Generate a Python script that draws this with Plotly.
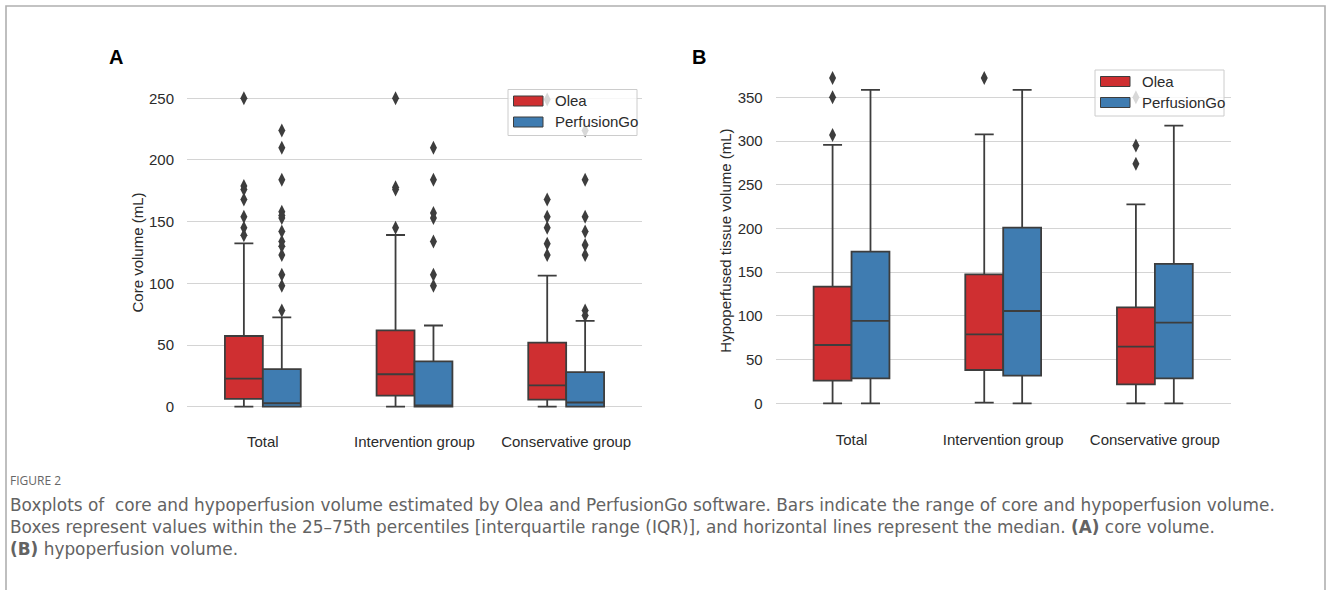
import plotly.graph_objects as go

W, H = 1330, 590

categories = ["Total", "Intervention group", "Conservative group"]
series_names = ["Olea", "PerfusionGo"]

# ---- Panel A: core volume (mL) ----
core_olea_q1 = [6.3, 8.9, 5.8]
core_olea_med = [22.8, 26.3, 17.3]
core_olea_q3 = [57.3, 61.8, 52.0]
core_olea_lo = [0.0, 0.0, 0.0]
core_olea_hi = [132.4, 139.2, 106.3]
core_olea_out_total = [250, 179, 176, 168, 154, 145, 139]
core_olea_out_interv = [250, 178, 176, 145]
core_olea_out_conserv = [249, 168, 154, 145, 132, 123]

core_pg_q1 = [0.0, 0.0, 0.0]
core_pg_med = [2.8, 1.1, 3.4]
core_pg_q3 = [30.5, 36.7, 28.0]
core_pg_lo = [0.0, 0.0, 0.0]
core_pg_hi = [72.4, 65.8, 69.6]
core_pg_out_total = [224, 210, 184, 158, 155, 153, 142, 134, 130, 123, 107, 98, 78]
core_pg_out_interv = [210, 184, 157, 153, 134, 107, 98]
core_pg_out_conserv = [224, 184, 154, 142, 131, 123, 78, 74]

# ---- Panel B: hypoperfused tissue volume (mL) ----
hypo_olea_q1 = [25.9, 38.1, 21.7]
hypo_olea_med = [66.7, 78.9, 64.8]
hypo_olea_q3 = [133.4, 147.5, 109.8]
hypo_olea_lo = [0.0, 0.8, 0.0]
hypo_olea_hi = [295.5, 307.7, 227.6]
hypo_olea_out_total = [372, 350, 307]
hypo_olea_out_interv = [372]
hypo_olea_out_conserv = [350, 295, 274]

hypo_pg_q1 = [28.6, 31.6, 28.6]
hypo_pg_med = [94.2, 105.6, 92.3]
hypo_pg_q3 = [173.5, 200.9, 159.4]
hypo_pg_lo = [0.0, 0.0, 0.0]
hypo_pg_hi = [358.4, 358.4, 317.6]
hypo_pg_out_total = []
hypo_pg_out_interv = []
hypo_pg_out_conserv = []

RED = "#cf2f31"
BLUE = "#3f7cb1"
EDGE = "#3d3d3d"
GRID = "#d4d4d4"
TXT = "#2b2b2b"
FONT = "Liberation Sans, Arial, sans-serif"


def fx(px):
    return px / W


def fy(py):
    return 1 - py / H


fig = go.Figure()


def add_panel(xa, ya, olea_stats, pg_stats, olea_out, pg_out):
    for name, color, st, outs in (("Olea", RED, olea_stats, olea_out),
                                  ("PerfusionGo", BLUE, pg_stats, pg_out)):
        q1, med, q3, lo, hi = st
        fig.add_trace(go.Box(
            x=categories, q1=q1, median=med, q3=q3,
            lowerfence=lo, upperfence=hi,
            name=name, offsetgroup=name, alignmentgroup="g",
            fillcolor=color, line=dict(color=EDGE, width=1.8),
            whiskerwidth=0.5, boxpoints=False, showlegend=False,
            xaxis=xa, yaxis=ya,
        ))
        ox, oy = [], []
        for cat, vals in zip(categories, outs):
            ox += [cat] * len(vals)
            oy += list(vals)
        fig.add_trace(go.Scatter(
            x=ox, y=oy, mode="markers", name=name + " outliers",
            offsetgroup=name, alignmentgroup="g",
            marker=dict(symbol="diamond-tall", size=10, color=EDGE,
                        line=dict(width=0)),
            showlegend=False, xaxis=xa, yaxis=ya,
        ))


add_panel("x", "y",
          (core_olea_q1, core_olea_med, core_olea_q3, core_olea_lo, core_olea_hi),
          (core_pg_q1, core_pg_med, core_pg_q3, core_pg_lo, core_pg_hi),
          (core_olea_out_total, core_olea_out_interv, core_olea_out_conserv),
          (core_pg_out_total, core_pg_out_interv, core_pg_out_conserv))
add_panel("x2", "y2",
          (hypo_olea_q1, hypo_olea_med, hypo_olea_q3, hypo_olea_lo, hypo_olea_hi),
          (hypo_pg_q1, hypo_pg_med, hypo_pg_q3, hypo_pg_lo, hypo_pg_hi),
          (hypo_olea_out_total, hypo_olea_out_interv, hypo_olea_out_conserv),
          (hypo_pg_out_total, hypo_pg_out_interv, hypo_pg_out_conserv))

xcommon = dict(type="category", categoryorder="array", categoryarray=categories,
               showgrid=False, zeroline=False, showline=False,
               ticks="outside", ticklen=6, tickcolor="rgba(0,0,0,0)",
               tickfont=dict(family=FONT, size=15, color=TXT), fixedrange=True)
ycommon = dict(showgrid=True, gridcolor=GRID, gridwidth=1.3, zeroline=False,
               showline=False, ticks="outside", ticklen=9,
               tickcolor="rgba(0,0,0,0)", dtick=50,
               tickfont=dict(family=FONT, size=15, color=TXT), fixedrange=True)

fig.update_layout(
    width=W, height=H, margin=dict(l=0, r=0, t=0, b=0),
    paper_bgcolor="white", plot_bgcolor="white",
    boxmode="group", boxgap=0.5, boxgroupgap=0.0,
    scattermode="group", scattergap=0.5,
    showlegend=False,
    xaxis=dict(domain=[fx(187), fx(642)], anchor="y", **xcommon),
    yaxis=dict(domain=[fy(422.1), fy(82.9)], range=[-12.5, 262.5], anchor="x", **ycommon),
    xaxis2=dict(domain=[fx(775.7), fx(1230.7)], anchor="y2", **xcommon),
    yaxis2=dict(domain=[fy(419.6), fy(61.8)], range=[-18.6, 390.6], anchor="x2", **ycommon),
)

shapes = []
annotations = []

# outer frame
shapes.append(dict(type="rect", xref="paper", yref="paper",
                   x0=fx(6), x1=fx(1325), y0=fy(640), y1=fy(6),
                   line=dict(color="#b0b0b0", width=1.6), fillcolor="rgba(0,0,0,0)",
                   layer="below"))


def centered(text, x, y, size, color, angle=0, family=FONT):
    annotations.append(dict(text=text, x=fx(x), y=fy(y), xref="paper", yref="paper",
                            xanchor="center", yanchor="middle", showarrow=False,
                            textangle=angle, font=dict(family=family, size=size, color=color)))


# panel letters
centered("<b>A</b>", 115.5, 57, 20, "black")
centered("<b>B</b>", 699, 57, 20, "black")

# axis titles
centered("Core volume (mL)", 137, 252.5, 15, TXT, angle=-90)
centered("Hypoperfused tissue volume (mL)", 726, 240.7, 15, TXT, angle=-90)


def add_legend(left, top):
    width, height = 129, 46
    shapes.append(dict(type="rect", xref="paper", yref="paper", layer="above",
                       x0=fx(left), x1=fx(left + width), y0=fy(top + height), y1=fy(top),
                       fillcolor="rgba(255,255,255,0.8)", line=dict(color="#cccccc", width=1)))
    for i, (name, color) in enumerate(zip(series_names, [RED, BLUE])):
        cy = top + 11.5 + 21 * i
        shapes.append(dict(type="rect", xref="paper", yref="paper", layer="above",
                           x0=fx(left + 5.5), x1=fx(left + 35), y0=fy(cy + 5), y1=fy(cy - 5),
                           fillcolor=color, line=dict(color=EDGE, width=1)))
        annotations.append(dict(text=name, x=fx(left + 45), y=fy(cy), xref="paper",
                                yref="paper", xanchor="left", yanchor="middle",
                                showarrow=False, font=dict(family=FONT, size=15, color=TXT)))


add_legend(508, 89.5)
add_legend(1095, 70)

# caption
CAP = "DejaVu Sans, Open Sans, sans-serif"
CAPC = "#636363"
annotations.append(dict(text="FIGURE 2", x=fx(8), y=fy(480), xref="paper", yref="paper",
                        xanchor="left", yanchor="middle", showarrow=False,
                        font=dict(family="Open Sans, sans-serif", size=12, color="#666666")))
cap_lines = [
    "Boxplots of&nbsp; core and hypoperfusion volume estimated by Olea and PerfusionGo software. "
    "Bars indicate the range of core and hypoperfusion volume.",
    "Boxes represent values within the 25–75th percentiles [interquartile range (IQR)], and "
    "horizontal lines represent the median. <b>(A)</b> core volume.",
    "<b>(B)</b> hypoperfusion volume.",
]
annotations.append(dict(text="<br>".join(cap_lines), x=fx(8), y=fy(493), xref="paper",
                        yref="paper", xanchor="left", yanchor="top", align="left",
                        showarrow=False,
                        font=dict(family=CAP, size=16.9, color=CAPC)))

fig.update_layout(shapes=shapes, annotations=annotations)
fig.write_html("out.html")
